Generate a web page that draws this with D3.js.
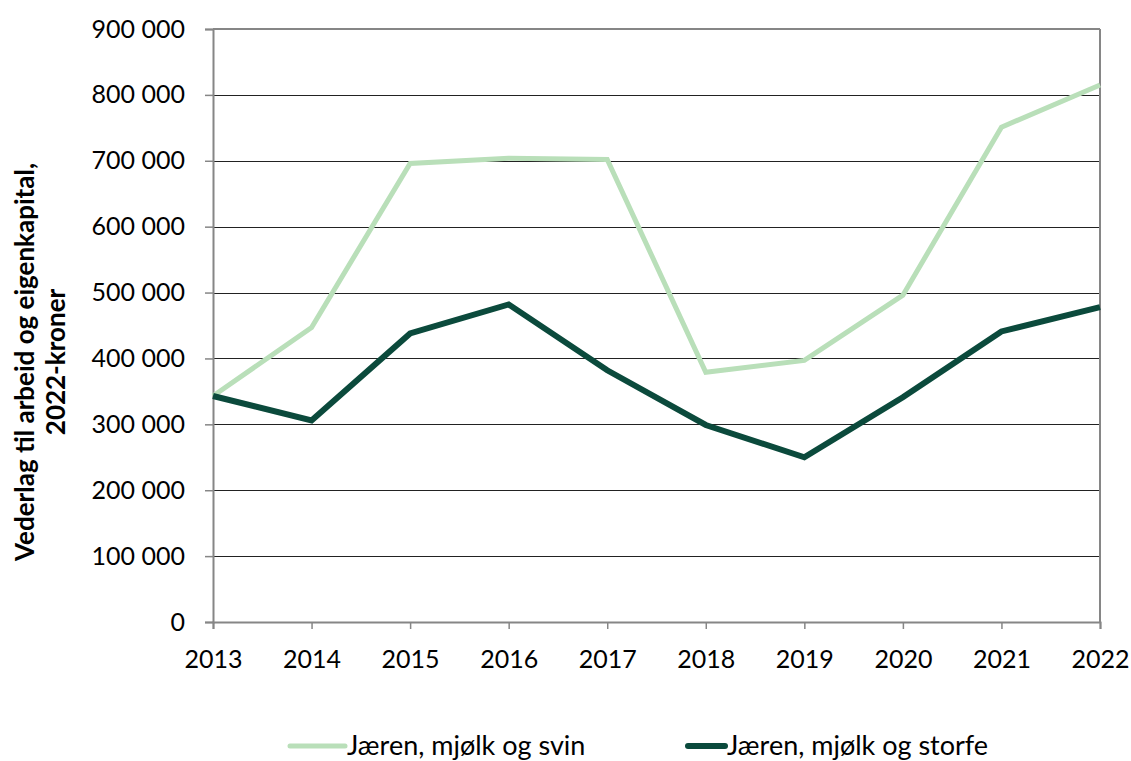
<!DOCTYPE html>
<html><head><meta charset="utf-8">
<script src="https://cdn.jsdelivr.net/npm/d3@7"></script>
<style>body{margin:0;background:#fff}svg{display:block}</style>
</head><body>
<script>
const years = [2013,2014,2015,2016,2017,2018,2019,2020,2021,2022];
const svin = [343000,447000,696000,704000,702000,379000,397000,496000,751000,815000];
const storfe = [343000,306000,438000,482000,382000,299000,250000,341000,441000,478000];
const yTicks = [0,100000,200000,300000,400000,500000,600000,700000,800000,900000];
const seriesNames = ["Jæren, mjølk og svin","Jæren, mjølk og storfe"];
const colors = ["#b9dfb9","#0b4a3c"];

const W=1131,H=761;
const svg=d3.select("body").append("svg").attr("width",W).attr("height",H);
const font="Lato, 'Open Sans', sans-serif";
const x=d3.scaleLinear().domain([2013,2022]).range([213,1100]);
const y=d3.scaleLinear().domain([0,900000]).range([622,29]);
const fmt=v=>v===0?"0":d3.format(",")(v).replace(/,/g," ");

// gridlines
svg.append("g").selectAll("line").data(yTicks.filter(d=>d>0)).join("line")
 .attr("x1",213).attr("x2",1100).attr("y1",d=>Math.round(y(d))+0.5).attr("y2",d=>Math.round(y(d))+0.5)
 .attr("stroke","#222").attr("stroke-width",1);

// y axis
const ya=svg.append("g").attr("transform","translate(213,0)")
 .call(d3.axisLeft(y).tickValues(yTicks).tickFormat(fmt).tickSize(8).tickPadding(20));
ya.select(".domain").attr("stroke","#868686").attr("stroke-width",2);
ya.selectAll(".tick line").attr("stroke","#868686").attr("stroke-width",1.5);
ya.selectAll("text").attr("font-family",font).attr("font-size",25).attr("fill","#000");

// border
svg.append("line").attr("x1",1100).attr("x2",1100).attr("y1",29).attr("y2",622).attr("stroke","#868686").attr("stroke-width",2);
svg.append("line").attr("x1",213).attr("x2",1100).attr("y1",29).attr("y2",29).attr("stroke","#868686").attr("stroke-width",2);

// x axis
const xa=svg.append("g").attr("transform","translate(0,622)")
 .call(d3.axisBottom(x).tickValues(years).tickFormat(d3.format("d")).tickSize(7).tickPadding(20));
xa.select(".domain").attr("stroke","#868686").attr("stroke-width",2);
xa.selectAll(".tick line").attr("stroke","#868686").attr("stroke-width",1.5);
xa.selectAll("text").attr("font-family",font).attr("font-size",25).attr("fill","#000").attr("dy",null).attr("y",46);

// lines
const line=d3.line().x((d,i)=>x(years[i])).y(d=>y(d));
[svin,storfe].forEach((s,i)=>{
 svg.append("path").datum(s).attr("d",line).attr("fill","none")
  .attr("stroke",colors[i]).attr("stroke-width",i===0?5:6).attr("stroke-linejoin","miter");
});

// y label
const yl=svg.append("text").attr("transform","translate(0,362) rotate(-90)")
 .attr("text-anchor","middle").attr("font-family",font).attr("font-weight","bold").attr("font-size",26).attr("fill","#000");
yl.append("tspan").attr("x",0).attr("y",34).text("Vederlag til arbeid og eigenkapital,");
yl.append("tspan").attr("x",0).attr("y",65).text("2022-kroner");

// legend
const leg=[{x1:290,x2:345,tx:347},{x1:688,x2:725,tx:727}];
leg.forEach((l,i)=>{
 svg.append("line").attr("x1",l.x1).attr("x2",l.x2).attr("y1",746).attr("y2",746)
  .attr("stroke",colors[i]).attr("stroke-width",i===0?5:6).attr("stroke-linecap","round");
 svg.append("text").attr("x",l.tx).attr("y",755).attr("font-family",font).attr("font-size",27).attr("fill","#000").text(seriesNames[i]);
});
</script>
</body></html>
